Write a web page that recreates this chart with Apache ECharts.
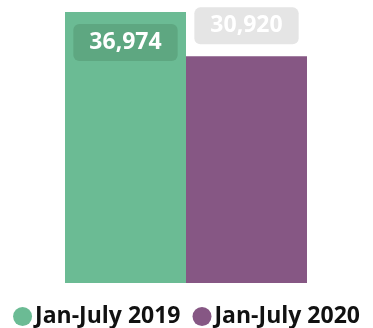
<!DOCTYPE html>
<html>
<head>
<meta charset="utf-8">
<script src="https://cdn.jsdelivr.net/npm/echarts@6/dist/echarts.min.js"></script>
<style>
  html, body { margin: 0; padding: 0; background: #ffffff; }
  #chart { width: 373px; height: 328px; }
</style>
</head>
<body>
<div id="chart"></div>
<script>
// Year-over-year comparison, January through July
const categories = ['Jan-July'];
const seriesNames = ['Jan-July 2019', 'Jan-July 2020'];
const values2019 = [36974];
const values2020 = [30920];
const colors = ['#6bbb94', '#865784'];

const chart = echarts.init(document.getElementById('chart'), null, { renderer: 'canvas' });

const labelFont = { fontFamily: 'Open Sans', fontWeight: 'bold', fontSize: 23 };
const fmt = p => p.value.toLocaleString('en-US');

chart.setOption({
  animation: false,
  grid: { left: 65, right: 66, top: 12, bottom: 45 },
  xAxis: {
    type: 'category',
    data: categories,
    show: false
  },
  yAxis: {
    type: 'value',
    min: 0,
    max: 'dataMax',
    show: false
  },
  legend: {
    top: 300,
    left: 'center',
    icon: 'circle',
    itemWidth: 19,
    itemHeight: 19,
    itemGap: 12,
    textStyle: {
      fontFamily: 'Open Sans',
      fontWeight: 'bold',
      fontSize: 23,
      color: '#111111',
      padding: [0, 0, 0, -2]
    },
    data: seriesNames
  },
  series: [
    {
      name: seriesNames[0],
      type: 'bar',
      data: values2019,
      barGap: '0%',
      barCategoryGap: '0%',
      itemStyle: { color: colors[0] },
      label: {
        show: true,
        position: 'insideTop',
        distance: 12,
        formatter: fmt,
        color: '#ffffff',
        backgroundColor: '#5ea781',
        borderRadius: 6,
        padding: [6, 16, 6, 16],
        lineHeight: 25,
        ...labelFont
      }
    },
    {
      name: seriesNames[1],
      type: 'bar',
      data: values2020,
      itemStyle: { color: colors[1] },
      label: {
        show: true,
        position: 'top',
        distance: 12,
        formatter: fmt,
        color: '#ffffff',
        backgroundColor: '#e5e5e5',
        borderRadius: 6,
        padding: [6, 16, 6, 16],
        lineHeight: 25,
        ...labelFont
      }
    }
  ]
});
</script>
</body>
</html>
